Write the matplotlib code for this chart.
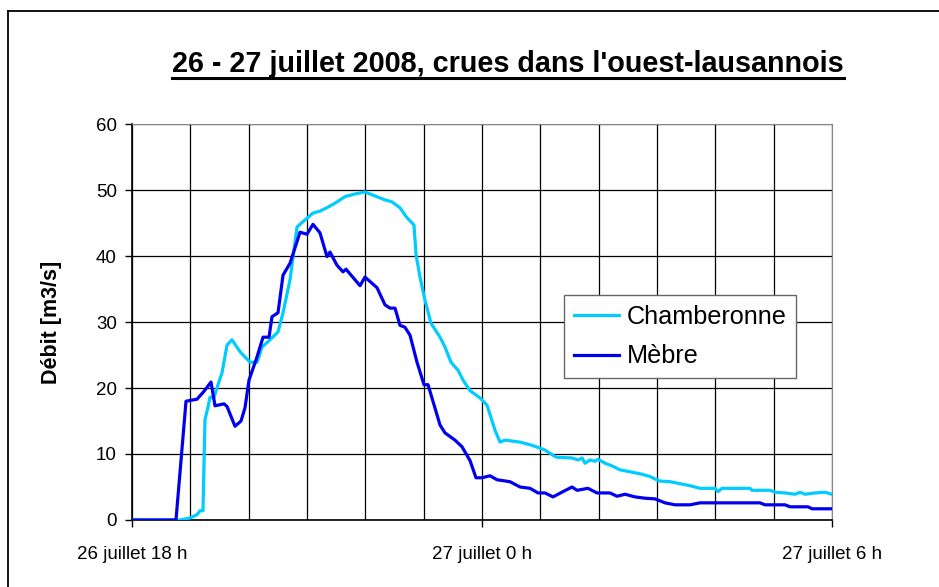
import matplotlib.pyplot as plt
from matplotlib.lines import Line2D

plt.rcParams['font.family'] = ['Liberation Sans', 'DejaVu Sans']

# heures depuis le 26 juillet 18 h
t_mebre = [0, 0.754, 0.926, 1.114, 1.234, 1.354, 1.423, 1.577, 1.629, 1.766, 1.869, 1.937,
           2.006, 2.143, 2.246, 2.349, 2.400, 2.503, 2.589, 2.709, 2.880, 3.000, 3.103, 3.223,
           3.343, 3.394, 3.514, 3.617, 3.669, 3.909, 3.994, 4.200, 4.337, 4.423, 4.509, 4.594,
           4.680, 4.766, 4.886, 5.006, 5.075, 5.280, 5.366, 5.537, 5.657, 5.795, 5.897, 6.0,
           6.137, 6.257, 6.480, 6.652, 6.823, 6.960, 7.080, 7.217, 7.389, 7.543, 7.629, 7.817,
           7.971, 8.194, 8.315, 8.452, 8.623, 8.795, 8.966, 9.137, 9.309, 9.566, 9.737, 10.766,
           10.852, 11.195, 11.280, 11.589, 11.658, 12.0]
q_mebre = [0, 0, 18.0, 18.3, 19.5, 20.9, 17.3, 17.6, 17.2, 14.2, 15.0, 17.0,
           21.2, 24.7, 27.7, 27.7, 30.8, 31.4, 37.1, 38.9, 43.6, 43.3, 44.8, 43.5,
           39.9, 40.6, 38.6, 37.6, 38.0, 35.5, 36.8, 35.2, 32.6, 32.1, 32.1, 29.5,
           29.2, 28.0, 23.9, 20.5, 20.5, 14.4, 13.2, 12.1, 11.1, 9.0, 6.4, 6.4,
           6.7, 6.1, 5.8, 5.0, 4.8, 4.1, 4.1, 3.5, 4.3, 5.0, 4.5, 4.8,
           4.1, 4.1, 3.6, 3.9, 3.5, 3.3, 3.2, 2.6, 2.3, 2.3, 2.6, 2.6,
           2.3, 2.3, 2.0, 2.0, 1.7, 1.7]

t_chamb = [0, 0.823, 0.994, 1.114, 1.166, 1.217, 1.251, 1.303, 1.337, 1.406, 1.474, 1.543,
           1.629, 1.714, 1.852, 2.023, 2.143, 2.229, 2.366, 2.503, 2.589, 2.709, 2.829, 2.932,
           3.103, 3.223, 3.360, 3.480, 3.652, 3.823, 3.994, 4.166, 4.337, 4.457, 4.594, 4.714,
           4.834, 4.869, 4.937, 5.023, 5.126, 5.280, 5.366, 5.469, 5.589, 5.675, 5.795, 5.966,
           6.086, 6.223, 6.309, 6.394, 6.652, 6.823, 6.995, 7.080, 7.217, 7.286, 7.543, 7.646,
           7.715, 7.766, 7.852, 7.937, 7.989, 8.109, 8.229, 8.366, 8.538, 8.709, 8.880, 8.966,
           9.052, 9.223, 9.395, 9.566, 9.737, 9.995, 10.046, 10.115, 10.595, 10.629, 10.938, 11.023,
           11.195, 11.366, 11.452, 11.537, 11.709, 11.880, 12.0]
q_chamb = [0, 0, 0.3, 0.8, 1.4, 1.4, 15.2, 17.1, 18.6, 18.6, 20.5, 22.3,
           26.5, 27.3, 25.5, 23.9, 23.9, 26.2, 27.3, 28.5, 31.4, 36.4, 44.4, 45.2,
           46.5, 46.8, 47.4, 48.0, 49.0, 49.4, 49.7, 49.1, 48.5, 48.2, 47.3, 45.8,
           44.7, 40.2, 36.8, 33.3, 29.8, 27.7, 26.2, 23.9, 22.7, 21.2, 19.6, 18.5,
           17.4, 13.6, 11.8, 12.1, 11.8, 11.4, 10.9, 10.6, 9.8, 9.5, 9.4, 9.1,
           9.4, 8.6, 9.1, 8.9, 9.2, 8.6, 8.2, 7.6, 7.3, 7.0, 6.6, 6.2,
           5.9, 5.8, 5.5, 5.2, 4.8, 4.8, 4.3, 4.8, 4.8, 4.5, 4.5, 4.2,
           4.1, 3.9, 4.2, 3.9, 4.1, 4.2, 3.9]

xtick_pos = [0, 6, 12]
xtick_labels = ['26 juillet 18 h', '27 juillet 0 h', '27 juillet 6 h']

fig = plt.figure(figsize=(9.39, 5.87), dpi=100)
ax = fig.add_axes([132/939, 1-520/587, 700/939, 396/587])

ax.plot(t_chamb, q_chamb, color='#00CCFF', lw=2.3, label='Chamberonne', zorder=3)
ax.plot(t_mebre, q_mebre, color='#0000EE', lw=2.3, label='Mèbre', zorder=4)

ax.set_xlim(0, 12)
ax.set_ylim(0, 60)
ax.set_yticks(range(0, 61, 10))
ax.set_xticks(xtick_pos)
ax.set_xticklabels(xtick_labels)
ax.set_xticks(range(0, 13), minor=True)
ax.grid(True, which='both', color='black', lw=0.9)
ax.tick_params(axis='both', which='major', labelsize=13.5, length=5, width=1, direction='out', pad=6)
ax.tick_params(axis='x', which='major', pad=14)
ax.tick_params(axis='x', which='minor', length=0)
for s in ['top', 'right']:
    ax.spines[s].set_color('#888888')
for s in ['left', 'bottom']:
    ax.spines[s].set_linewidth(1.2)
ax.set_ylabel('Débit [m3/s]', fontsize=15.5, fontweight='bold', labelpad=24)

leg = ax.legend(loc='upper left', bbox_to_anchor=(0.617, 0.568), borderaxespad=0,
                fontsize=18.2, handlelength=1.8, handletextpad=0.3, fancybox=False,
                framealpha=1, edgecolor='#666666', borderpad=0.38, labelspacing=0.62)
leg.get_frame().set_linewidth(1)

title = fig.text(0.541, 1-72/587, "26 - 27 juillet 2008, crues dans l'ouest-lausannois",
                 ha='center', va='baseline', fontsize=20.7, fontweight='bold')
fig.canvas.draw()
bb = title.get_window_extent().transformed(fig.transFigure.inverted())
fig.add_artist(Line2D([bb.x0, bb.x1], [1-78/587, 1-78/587], color='black', lw=2.2))

fig.add_artist(Line2D([8/939, 1], [1-11/587, 1-11/587], color='black', lw=1.3))
fig.add_artist(Line2D([8/939, 8/939], [0, 1-11/587], color='black', lw=1.3))

fig.savefig('out.png', dpi=100)
